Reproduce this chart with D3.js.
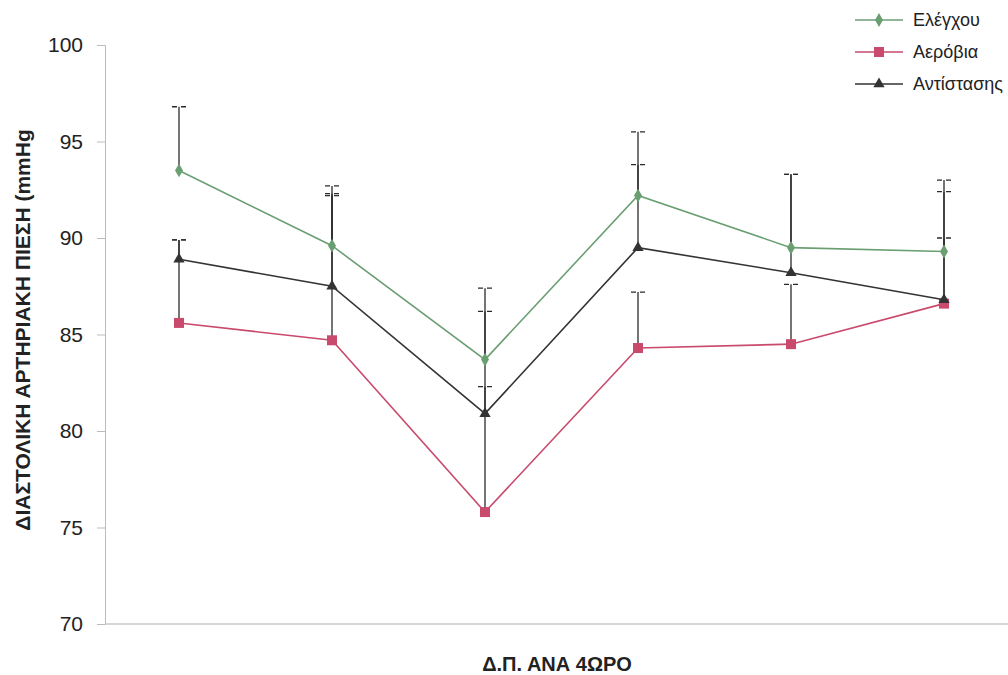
<!DOCTYPE html>
<html><head><meta charset="utf-8">
<script src="https://cdn.jsdelivr.net/npm/d3@7"></script>
<style>body{margin:0;background:#fff}svg{display:block}</style>
</head><body>
<svg id="c" width="1008" height="675"></svg>
<script>
const categories = ["1", "2", "3", "4", "5", "6"];
const seriesNames = ["Ελέγχου", "Αερόβια", "Αντίστασης"];
const controlValues = [93.5, 89.6, 83.7, 92.2, 89.5, 89.3];
const aerobicValues = [85.6, 84.7, 75.8, 84.3, 84.5, 86.6];
const resistanceValues = [88.9, 87.5, 80.9, 89.5, 88.2, 86.8];
const controlErr = [3.3, 3.1, 3.7, 3.3, 3.8, 3.7];
const aerobicErr = [4.3, 7.5, 10.4, 2.9, 3.1, 3.4];
const resistanceErr = [1.0, 4.8, 1.4, 4.3, 5.1, 5.6];
const yTicks = [70, 75, 80, 85, 90, 95, 100];
const yTitle = "ΔΙΑΣΤΟΛΙΚΗ ΑΡΤΗΡΙΑΚΗ ΠΙΕΣΗ (mmHg";
const xTitle = "Δ.Π. ΑΝΑ 4ΩΡΟ";

const series = [
  {name: seriesNames[0], values: controlValues, err: controlErr, color: "#6a9f72", marker: "diamond"},
  {name: seriesNames[1], values: aerobicValues, err: aerobicErr, color: "#c94a6c", marker: "square"},
  {name: seriesNames[2], values: resistanceValues, err: resistanceErr, color: "#333333", marker: "triangle"}
];

const svg = d3.select("#c");
const font = "Arial, 'Liberation Sans', sans-serif";
const x = d3.scalePoint().domain(categories).range([179, 944]);
const y = d3.scaleLinear().domain([70, 100]).range([624, 45]);

// axes
const yAxis = svg.append("g").attr("transform", "translate(105,0)")
  .call(d3.axisLeft(y).tickValues(yTicks).tickSize(8).tickPadding(14).tickFormat(d3.format("d")));
yAxis.select(".domain").attr("stroke", "#bbb");
yAxis.selectAll(".tick line").attr("stroke", "#bbb");
yAxis.selectAll(".tick text").attr("font-family", font).attr("font-size", 21).attr("fill", "#222");

svg.append("line").attr("x1", 105).attr("x2", 1008).attr("y1", y(70)).attr("y2", y(70))
  .attr("stroke", "#c8c8c8").attr("stroke-width", 1.5);

// error bars (plus direction)
const eb = svg.append("g");
series.forEach(s => {
  categories.forEach((c, i) => {
    const cx = x(c), y0 = y(s.values[i]), y1 = y(s.values[i] + s.err[i]);
    eb.append("line").attr("x1", cx).attr("x2", cx).attr("y1", y0).attr("y2", y1)
      .attr("stroke", "#2a2a2a").attr("stroke-width", 1.3);
    eb.append("line").attr("x1", cx - 7).attr("x2", cx + 7).attr("y1", y1).attr("y2", y1)
      .attr("stroke", "#2a2a2a").attr("stroke-width", 1.3).attr("stroke-dasharray", "5 4 5");
  });
});

function drawMarker(g, type, cx, cy, color) {
  if (type === "square") {
    g.append("rect").attr("x", cx - 5).attr("y", cy - 5).attr("width", 10).attr("height", 10).attr("fill", color);
  } else if (type === "triangle") {
    g.append("path").attr("d", d3.symbol(d3.symbolTriangle, 55)()).attr("transform", `translate(${cx},${cy})`).attr("fill", color);
  } else {
    g.append("path").attr("d", d3.symbol(d3.symbolDiamond, 55)()).attr("transform", `translate(${cx},${cy})`).attr("fill", color);
  }
}

const line = d3.line().x((d, i) => x(categories[i])).y(d => y(d));
series.forEach(s => {
  const g = svg.append("g");
  g.append("path").datum(s.values).attr("d", line).attr("fill", "none").attr("stroke", s.color).attr("stroke-width", 1.6);
  s.values.forEach((v, i) => drawMarker(g, s.marker, x(categories[i]), y(v), s.color));
});

// legend
const lg = svg.append("g");
series.forEach((s, i) => {
  const ly = 20 + i * 32;
  lg.append("line").attr("x1", 855).attr("x2", 903).attr("y1", ly).attr("y2", ly).attr("stroke", s.color).attr("stroke-width", 1.6);
  drawMarker(lg, s.marker, 879, ly, s.color);
  lg.append("text").attr("x", 913).attr("y", ly).attr("dy", "0.35em").attr("font-family", font)
    .attr("font-size", 18).attr("fill", "#222").text(s.name);
});

// titles
svg.append("text").attr("transform", "translate(30,330) rotate(-90)").attr("text-anchor", "middle")
  .attr("font-family", font).attr("font-weight", "bold").attr("font-size", 21).attr("fill", "#222").text(yTitle);
svg.append("text").attr("x", 557).attr("y", 671).attr("text-anchor", "middle")
  .attr("font-family", font).attr("font-weight", "bold").attr("font-size", 20).attr("fill", "#222").text(xTitle);
</script>
</body></html>
